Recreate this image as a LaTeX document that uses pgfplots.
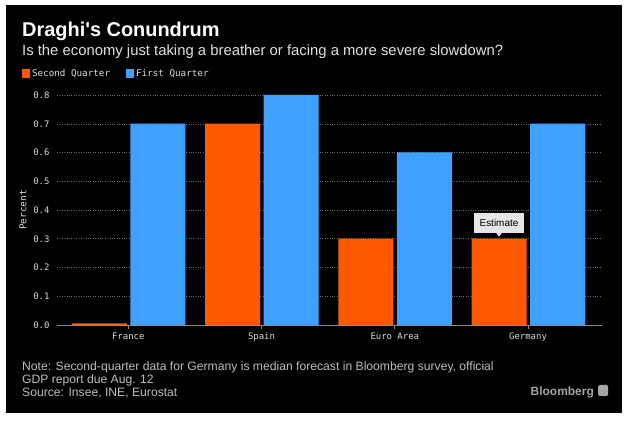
\documentclass[border=0pt]{standalone}
\usepackage{pgfplots}
\pgfplotsset{compat=1.18}
\usepackage{fontspec}
\setmainfont{Liberation Sans}
\newfontfamily\titlefont{Liberation Sans}[Ligatures=TeXOff]
\newfontfamily\monofont{DejaVu Sans Mono}
\definecolor{qtwo}{HTML}{FF5A00}
\definecolor{qone}{HTML}{3FA0FF}
\definecolor{txtgray}{HTML}{BDBDBD}
\definecolor{gridgray}{HTML}{6A6A6A}
\begin{document}
\begin{tikzpicture}
\useasboundingbox (0bp,0bp) rectangle (633bp,423bp);
\fill[white] (0bp,0bp) rectangle (633bp,423bp);
\fill[black] (6bp,10bp) rectangle (622bp,418bp);
\node[anchor=base west, text=white, font=\titlefont\fontsize{20}{22}\selectfont\bfseries, inner sep=0] at (22bp,386bp) {Draghi's Conundrum};
\node[anchor=base west, text=white!88!black, font=\fontsize{14.9}{17}\selectfont, inner sep=0] at (22bp,367bp) {Is the economy just taking a breather or facing a more severe slowdown?};
\begin{axis}[
  at={(57bp,98bp)}, anchor=south west,
  scale only axis, width=545bp, height=230bp,
  ybar, bar width=55bp,
  xmin=-0.535, xmax=3.555, ymin=0, ymax=0.8,
  xtick={0,1,2,3}, xticklabels={France,Spain,Euro Area,Germany},
  ytick={0,0.1,0.2,0.3,0.4,0.5,0.6,0.7,0.8},
  yticklabel style={/pgf/number format/fixed,/pgf/number format/fixed zerofill,/pgf/number format/precision=1},
  /pgf/number format/assume math mode=true,
  ticklabel style={font=\monofont\fontsize{9}{10}\selectfont, text=white!85!black},
  axis x line*=bottom, axis y line*=left,
  y axis line style={draw=none},
  ytick style={draw=none},
  x axis line style={draw=white!55!black, line width=0.8pt},
  xtick style={draw=white!55!black, line width=0.6pt},
  tick align=outside, major tick length=4bp,
  ymajorgrids, grid style={dotted, gridgray, line width=0.5pt},
  ylabel={Percent}, ylabel style={font=\monofont\fontsize{9.5}{10}\selectfont, text=white!85!black},
  legend columns=2,
  legend style={at={(rel axis cs:-0.07,1.128)}, anchor=north west, draw=none, fill=none,
    font=\monofont\fontsize{9.3}{10}\selectfont, text=white!85!black,
    /tikz/every even column/.append style={column sep=14bp}},
  legend image code/.code={\fill[#1] (0bp,-4bp) rectangle (8bp,5bp);},
  clip=false,
]
\addplot[fill=qtwo, draw=none, bar shift=-29bp] coordinates {(0,0.006) (1,0.7) (2,0.3) (3,0.3)};
\addplot[fill=qone, draw=none, bar shift=29.5bp] coordinates {(0,0.7) (1,0.8) (2,0.6) (3,0.7)};
\legend{Second Quarter, First Quarter}
\node[fill=white!90!black, text=black, anchor=south, font=\fontsize{10}{12}\selectfont, minimum height=20bp, inner xsep=6bp] (est) at ([yshift=6bp]axis cs:2.782,0.3) {Estimate};
\fill[white!90!black] ([xshift=-3bp]est.south) -- ([xshift=3bp]est.south) -- ([yshift=-4bp]est.south) -- cycle;
\end{axis}
\node[anchor=base west, text=txtgray, font=\fontsize{12.2}{14}\selectfont, inner sep=0] at (22bp,52bp) {Note: Second-quarter data for Germany is median forecast in Bloomberg survey, official};
\node[anchor=base west, text=txtgray, font=\fontsize{12.2}{14}\selectfont, inner sep=0] at (22bp,39.5bp) {GDP report due Aug. 12};
\node[anchor=base west, text=txtgray, font=\fontsize{12.2}{14}\selectfont, inner sep=0] at (22bp,27bp) {Source: Insee, INE, Eurostat};
\node[anchor=base east, text=white!65!black, font=\fontsize{12}{14}\selectfont\bfseries, inner sep=0] at (594bp,28bp) {Bloomberg};
\fill[white!65!black, rounded corners=1.5bp] (598bp,27bp) rectangle (608bp,38bp);
\end{tikzpicture}
\end{document}
